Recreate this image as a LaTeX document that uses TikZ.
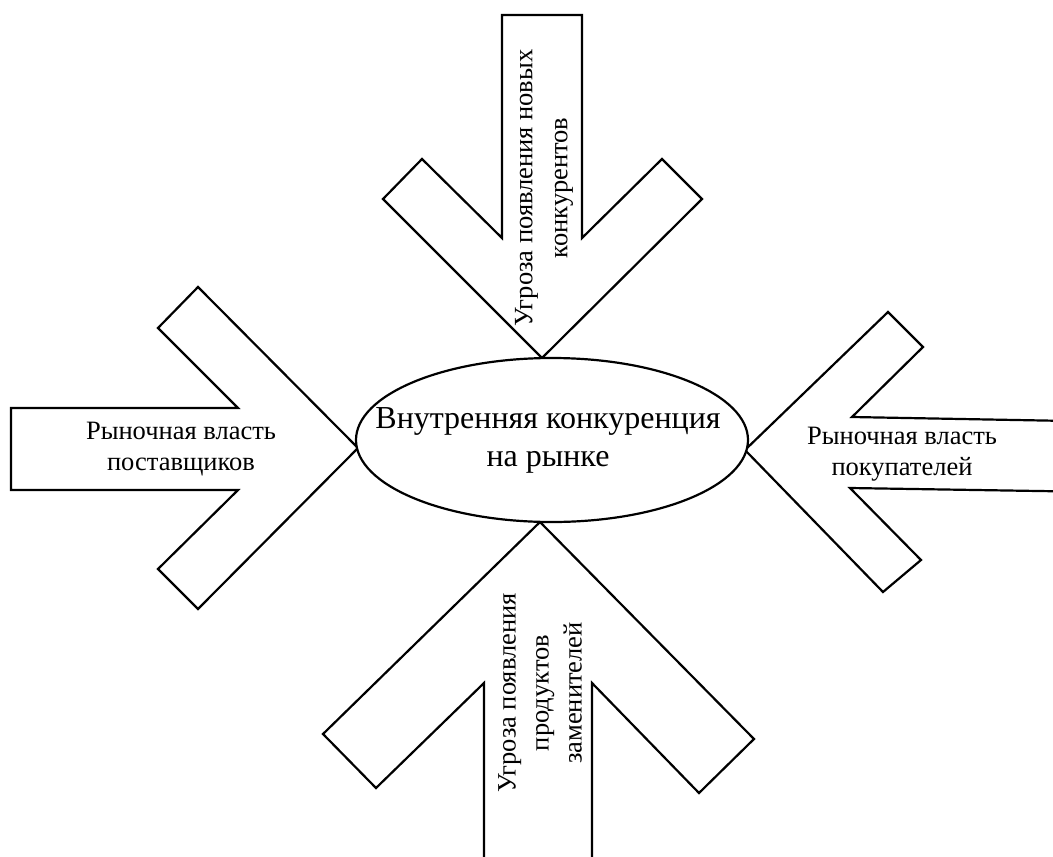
\documentclass[tikz,border=0pt]{standalone}
\usepackage{fontspec}
\setmainfont{Liberation Serif}
\usetikzlibrary{shapes.geometric}
\begin{document}
\begin{tikzpicture}[x=1pt,y=-1pt,
  blockarrow/.style={draw=black, fill=white, line width=2.2pt, line join=miter},
  core/.style={ellipse, draw=black, fill=white, line width=2.2pt,
    minimum width=392pt, minimum height=164pt, inner sep=0pt, outer sep=0pt},
  coretext/.style={align=center, inner sep=0pt, font=\fontsize{32}{38}\selectfont},
  caption/.style={align=center, inner sep=0pt, font=\fontsize{26.5}{31}\selectfont}
]
\useasboundingbox (0,0) rectangle (1053,857);

% the four block arrows pointing at the centre
\begin{scope}
  \clip (0,0) rectangle (1053,857);
  % from above
  \draw[blockarrow] (502,15) -- (582,15) -- (582,238) -- (662,159) -- (702,199)
    -- (542,358) -- (383,199) -- (422,159) -- (502,238) -- cycle;
  % from the left
  \draw[blockarrow] (11,408) -- (238,408) -- (158,328) -- (198,287)
    -- (358,448) -- (198,609) -- (158,569) -- (238,490) -- (11,490) -- cycle;
  % from the right
  \draw[blockarrow] (1070,421) -- (852,417) -- (923,347) -- (888,312)
    -- (745,450) -- (883,592) -- (921,560) -- (850,488) -- (1070,491.5) -- cycle;
  % from below
  \draw[blockarrow] (484,870) -- (484,683) -- (376,788) -- (323,734)
    -- (540,522) -- (754,739) -- (699,793) -- (592,683) -- (592,870) -- cycle;
\end{scope}

\node[core] (core) at (552,440) {};
\node[coretext] (coreLabel) at (548,440) {Внутренняя конкуренция\\на рынке};

\node[caption] (suppliers) at (181,449) {Рыночная власть\\поставщиков};
\node[caption] (buyers) at (902,454) {Рыночная власть\\покупателей};
\node[caption, rotate=90, font=\fontsize{26.5}{35}\selectfont] (entrants) at (544,188)
  {Угроза появления новых\\конкурентов};
\node[caption, rotate=90, font=\fontsize{26.5}{33}\selectfont] (substitutes) at (540,693)
  {Угроза появления\\продуктов\\заменителей};
\end{tikzpicture}
\end{document}
